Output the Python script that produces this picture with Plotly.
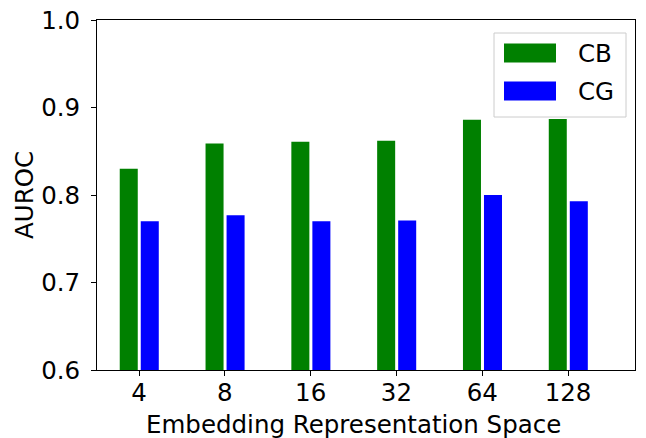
import plotly.graph_objects as go

categories = ["4", "8", "16", "32", "64", "128"]
cb_values = [0.830, 0.859, 0.861, 0.862, 0.886, 0.887]
cg_values = [0.770, 0.777, 0.770, 0.771, 0.800, 0.793]
y_ticks = [0.6, 0.7, 0.8, 0.9, 1.0]
y_tick_labels = ["0.6", "0.7", "0.8", "0.9", "1.0"]

FONT = "DejaVu Sans"
FS = 24.5
idx = list(range(len(categories)))

fig = go.Figure()
fig.add_trace(go.Bar(x=[i - 0.12 for i in idx], y=cb_values, width=0.21,
                     marker=dict(color="#008000", line=dict(width=0)), name="CB"))
fig.add_trace(go.Bar(x=[i + 0.125 for i in idx], y=cg_values, width=0.21,
                     marker=dict(color="#0000ff", line=dict(width=0)), name="CG"))

fig.update_layout(
    width=646, height=438,
    margin=dict(l=97, r=11, t=20, b=68, autoexpand=False),
    plot_bgcolor="white", paper_bgcolor="white",
    showlegend=False,
    font=dict(family=FONT, size=FS, color="black"),
    barmode="overlay",
)
fig.update_xaxes(
    range=[-0.49, 5.78], tickvals=idx, ticktext=categories, automargin=False,
    showline=True, linecolor="black", linewidth=1, mirror=True,
    ticks="outside", ticklen=5, tickcolor="black", showgrid=False, zeroline=False,
    tickfont=dict(size=FS), ticklabelstandoff=-4, ticklabeloverflow="allow",
)
fig.update_yaxes(
    range=[0.6, 1.0], tickvals=y_ticks, ticktext=y_tick_labels, automargin=False,
    showline=True, linecolor="black", linewidth=1, mirror=True,
    ticks="outside", ticklen=5, tickcolor="black", showgrid=False, zeroline=False,
    tickfont=dict(size=FS), ticklabelstandoff=6, ticklabeloverflow="allow",
)

W, H = 646 - 97 - 11, 438 - 20 - 68
def px(x):
    return (x - 97) / W
def py(y):
    return (370 - y) / H

# axis titles
fig.add_annotation(xref="paper", yref="paper", x=px(353.5), y=py(425),
                   text="Embedding Representation Space", showarrow=False,
                   xanchor="center", yanchor="middle", font=dict(family=FONT, size=FS))
fig.add_annotation(xref="paper", yref="paper", x=px(24), y=py(195),
                   text="AUROC", showarrow=False, textangle=-90,
                   xanchor="center", yanchor="middle", font=dict(family=FONT, size=FS))

# legend drawn in paper coordinates
fig.add_shape(type="rect", xref="paper", yref="paper",
              x0=px(494), x1=px(626), y0=py(117), y1=py(33),
              line=dict(color="#cccccc", width=1), fillcolor="rgba(255,255,255,0.8)", layer="above")
for (name, color, yc) in [("CB", "#008000", 53), ("CG", "#0000ff", 91)]:
    fig.add_shape(type="rect", xref="paper", yref="paper",
                  x0=px(504), x1=px(556), y0=py(yc + 9.5), y1=py(yc - 9.5),
                  line=dict(width=0), fillcolor=color, layer="above")
    fig.add_annotation(xref="paper", yref="paper", x=px(576), y=py(yc),
                       text=name, showarrow=False, xanchor="left", yanchor="middle",
                       font=dict(family=FONT, size=FS, color="black"))

fig.write_html("out.html", config={"displayModeBar": False},
               post_script="document.body.style.margin='0';")
